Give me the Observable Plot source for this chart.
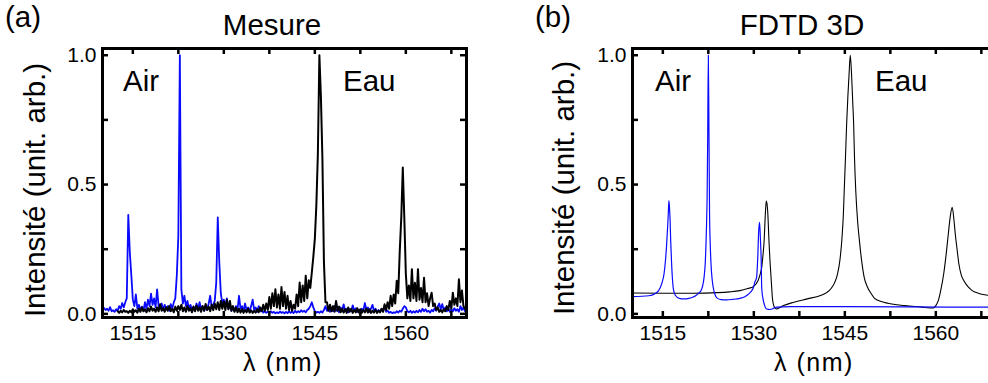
<!DOCTYPE html>
<html><head><meta charset="utf-8">
<script src="https://cdn.jsdelivr.net/npm/d3@7"></script>
<script src="https://cdn.jsdelivr.net/npm/@observablehq/plot@0.6"></script>
<style>
html,body{margin:0;padding:0;background:#fff;}
body{width:988px;height:383px;overflow:hidden;position:relative;font-family:"Liberation Sans",Arial,sans-serif;color:#000;}
.panel{position:absolute;top:0;height:383px;}
.t{position:absolute;white-space:nowrap;line-height:30px;font-size:29.5px;}
.c{transform:translateX(-50%);}
.r{transform:translate(-50%,-50%) rotate(-90deg);}
.xl{font-size:25px;line-height:25px;letter-spacing:1.5px;}
</style></head><body>
<div id="pa" class="panel" style="left:0;width:494px"></div>
<div id="pb" class="panel" style="left:494px;width:530px"></div>
<div class="t" style="left:5px;top:2px">(a)</div>
<div class="t c" style="left:272px;top:10px">Mesure</div>
<div class="t" style="left:123px;top:66px">Air</div>
<div class="t" style="left:343px;top:66px">Eau</div>
<div class="t c xl" style="left:283px;top:350px">λ (nm)</div>
<div class="t r" style="left:35px;top:190px">Intensité (unit. arb.)</div>
<div class="t" style="left:535px;top:2px">(b)</div>
<div class="t c" style="left:802px;top:10px">FDTD 3D</div>
<div class="t" style="left:655px;top:66px">Air</div>
<div class="t" style="left:875px;top:66px">Eau</div>
<div class="t c xl" style="left:814px;top:350px">λ (nm)</div>
<div class="t r" style="left:564px;top:188px">Intensité (unit. arb.)</div>
<script>
// ---- data ----
const wlStart = 1510;      // measured spectra wavelength grid (nm)
const wlStep = 0.25;
const airMeasured = [
  0.030,0.022,0.015,0.020,0.012,0.026,0.010,0.014, // 1510
  0.008,0.018,0.012,0.030,0.020,0.042,0.025,0.045, // 1512
  0.060,0.383,0.240,0.150,0.055,0.030,0.075,0.020, // 1514
  0.035,0.015,0.028,0.012,0.045,0.020,0.055,0.030, // 1516
  0.078,0.035,0.060,0.025,0.095,0.030,0.020,0.040, // 1518
  0.015,0.035,0.018,0.030,0.012,0.038,0.020,0.045, // 1520
  0.060,0.150,0.300,1.000,0.095,0.040,0.070,0.030, // 1522
  0.050,0.020,0.035,0.015,0.028,0.012,0.040,0.018, // 1524
  0.045,0.020,0.030,0.012,0.025,0.015,0.040,0.070, // 1526
  0.025,0.035,0.050,0.120,0.373,0.200,0.080,0.040, // 1528
  0.055,0.025,0.060,0.020,0.030,0.012,0.025,0.010, // 1530
  0.030,0.015,0.070,0.020,0.030,0.010,0.040,0.015, // 1532
  0.025,0.010,0.030,0.055,0.015,0.025,0.008,0.030, // 1534
  0.010,0.020,0.005,0.010,0.004,0.008,0.003,0.010, // 1536
  0.004,0.008,0.002,0.006,0.003,0.009,0.004,0.007, // 1538
  0.002,0.008,0.003,0.010,0.004,0.008,0.003,0.012, // 1540
  0.005,0.010,0.006,0.014,0.008,0.012,0.006,0.015, // 1542
  0.020,0.030,0.045,0.025,0.010,0.005,0.008,0.004, // 1544
  0.010,0.005,0.015,0.030,0.012,0.025,0.008,0.020, // 1546
  0.010,0.030,0.012,0.018,0.006,0.025,0.010,0.037, // 1548
  0.012,0.020,0.006,0.018,0.010,0.033,0.012,0.022, // 1550
  0.008,0.015,0.006,0.020,0.012,0.042,0.015,0.025, // 1552
  0.008,0.020,0.035,0.012,0.020,0.006,0.015,0.008, // 1554
  0.018,0.010,0.030,0.008,0.012,0.004,0.008,0.003, // 1556
  0.006,0.004,0.010,0.005,0.012,0.008,0.020,0.030, // 1558
  0.025,0.010,0.006,0.012,0.004,0.010,0.005,0.012, // 1560
  0.006,0.015,0.008,0.020,0.010,0.018,0.008,0.012, // 1562
  0.005,0.015,0.010,0.022,0.012,0.028,0.040,0.018, // 1564
  0.038,0.015,0.025,0.010,0.020,0.008,0.018,0.010, // 1566
  0.022,0.012,0.018,0.008,0.030,0.015,0.025,0.010, // 1568
  0.020                                            // 1570
];
const eauMeasured = [
  null,null,null,null,null,null,null,null,         // 1510
  null,null,0.010,0.004,0.012,0.006,0.015,0.008,   // 1512
  0.010,0.004,0.012,0.006,0.018,0.008,0.014,0.005, // 1514
  0.020,0.008,0.025,0.010,0.018,0.006,0.022,0.010, // 1516
  0.028,0.012,0.020,0.008,0.025,0.010,0.037,0.012, // 1518
  0.022,0.008,0.026,0.012,0.030,0.010,0.020,0.006, // 1520
  0.028,0.012,0.030,0.015,0.035,0.010,0.025,0.008, // 1522
  0.030,0.012,0.022,0.006,0.028,0.010,0.032,0.012, // 1524
  0.025,0.008,0.030,0.012,0.038,0.015,0.028,0.010, // 1526
  0.035,0.014,0.040,0.018,0.045,0.015,0.050,0.020, // 1528
  0.048,0.015,0.055,0.018,0.050,0.012,0.030,0.008, // 1530
  0.025,0.006,0.020,0.005,0.018,0.004,0.015,0.006, // 1532
  0.020,0.005,0.014,0.004,0.012,0.005,0.018,0.006, // 1534
  0.025,0.010,0.035,0.012,0.040,0.015,0.065,0.020, // 1536
  0.080,0.030,0.095,0.025,0.075,0.020,0.104,0.030, // 1538
  0.085,0.020,0.070,0.015,0.050,0.012,0.035,0.020, // 1540
  0.075,0.030,0.121,0.045,0.110,0.050,0.147,0.060, // 1542
  0.130,0.100,0.160,0.220,0.290,0.420,0.620,1.000, // 1544
  0.840,0.600,0.200,0.045,0.045,0.012,0.035,0.010, // 1546
  0.030,0.008,0.050,0.012,0.028,0.006,0.020,0.005, // 1548
  0.018,0.004,0.025,0.008,0.020,0.004,0.015,0.006, // 1550
  0.022,0.005,0.018,0.004,0.015,0.006,0.020,0.005, // 1552
  0.018,0.004,0.012,0.005,0.016,0.004,0.012,0.006, // 1554
  0.020,0.008,0.037,0.015,0.045,0.020,0.070,0.030, // 1556
  0.075,0.040,0.128,0.080,0.244,0.373,0.566,0.370, // 1558
  0.155,0.060,0.110,0.050,0.173,0.060,0.120,0.050, // 1560
  0.173,0.055,0.100,0.045,0.140,0.045,0.080,0.030, // 1562
  0.060,0.082,0.030,0.040,0.015,0.025,0.008,0.015, // 1564
  0.006,0.018,0.010,0.030,0.015,0.050,0.020,0.082, // 1566
  0.035,0.060,0.030,0.134,0.045,0.090,0.030,0.020, // 1568
  0.015                                            // 1570
];
const fdtdEauWl = [1510,1515,1520,1524,1526,1527.7,1529,1529.9,1530.7,1531.0,1531.3,1531.5,1531.7,1531.9,1532.05,1532.2,1532.3,1532.5,1532.65,1532.8,1532.95,1533.05,1533.2,1533.4,1533.8,1534.3,1534.9,1536.6,1538.8,1541,1542,1542.7,1543.3,1543.8,1544.2,1544.5,1544.75,1544.9,1545.1,1545.3,1545.5,1545.7,1545.9,1546.1,1546.3,1546.45,1546.6,1546.8,1547.1,1547.4,1547.8,1548.2,1548.7,1549.3,1549.9,1551,1552.1,1554.9,1557.7,1559.0,1559.6,1560.0,1560.4,1560.8,1561.3,1561.7,1562.0,1562.4,1562.7,1563.0,1563.2,1563.5,1563.8,1564.2,1564.6,1565.3,1566.0,1567.0,1568.8,1570];
const fdtdEauI  = [0.081,0.080,0.080,0.082,0.085,0.090,0.098,0.105,0.129,0.150,0.180,0.225,0.284,0.387,0.436,0.420,0.390,0.280,0.210,0.155,0.100,0.064,0.040,0.026,0.019,0.025,0.032,0.045,0.058,0.071,0.082,0.097,0.120,0.155,0.210,0.284,0.380,0.477,0.600,0.735,0.840,0.928,1.000,0.930,0.820,0.735,0.600,0.477,0.360,0.284,0.200,0.140,0.105,0.080,0.060,0.048,0.041,0.032,0.026,0.023,0.023,0.032,0.051,0.090,0.155,0.230,0.296,0.380,0.412,0.360,0.310,0.250,0.193,0.150,0.129,0.105,0.090,0.080,0.071,0.066];
const fdtdAirWl = [1510,1512.7,1513.7,1514.3,1514.8,1515.2,1515.45,1515.6,1515.8,1515.9,1516.0,1516.1,1516.2,1516.3,1516.45,1516.6,1516.7,1516.9,1517.1,1517.7,1518.5,1519.3,1520.0,1520.4,1521.0,1521.3,1521.6,1521.8,1522.0,1522.1,1522.2,1522.3,1522.4,1522.5,1522.6,1522.7,1522.8,1522.95,1523.1,1523.3,1523.6,1523.9,1524.6,1525.5,1526.5,1527.7,1528.5,1529.05,1529.5,1529.9,1530.2,1530.45,1530.65,1530.8,1530.95,1531.1,1531.2,1531.3,1531.5,1531.7,1532.1,1532.7,1533.3,1533.8,1536,1545,1555,1570];
const fdtdAirI  = [0.067,0.070,0.078,0.090,0.115,0.155,0.210,0.258,0.340,0.387,0.438,0.410,0.360,0.280,0.193,0.130,0.103,0.080,0.071,0.060,0.058,0.060,0.065,0.070,0.082,0.090,0.112,0.142,0.200,0.258,0.340,0.450,0.700,1.000,0.720,0.390,0.280,0.190,0.140,0.103,0.075,0.062,0.055,0.054,0.056,0.060,0.066,0.075,0.085,0.100,0.125,0.140,0.220,0.320,0.354,0.280,0.220,0.100,0.060,0.039,0.019,0.017,0.022,0.026,0.028,0.028,0.027,0.026];
const xTickLabels = [1515, 1530, 1545, 1560];
const xTickMarks = [1515, 1522.5, 1530, 1537.5, 1545, 1552.5, 1560, 1567.5];
const yTickLabels = [0, 0.5, 1];
const yTickMarks = [0, 0.25, 0.5, 0.75, 1];
const xDomain = [1510, 1570];
const yDomain = [-0.014, 1.026];

// ---- tables ----
const gridRows = arr => arr.map((v, i) => ({x: wlStart + i * wlStep, y: v}));
const pairRows = (wl, v) => wl.map((w, i) => ({x: w, y: v[i]}));
const airM = gridRows(airMeasured), eauM = gridRows(eauMeasured);
const airF = pairRows(fdtdAirWl, fdtdAirI), eauF = pairRows(fdtdEauWl, fdtdEauI);

const BLUE = "#0a0aff";
const mT = 48, mB = 66, mR = 28, H = 383;

function panel(width, marginLeft, lineMarks) {
  const innerH = H - mT - mB, innerW = width - marginLeft - mR;
  return Plot.plot({
    width, height: H, marginLeft, marginRight: mR, marginTop: mT, marginBottom: mB,
    x: {domain: xDomain}, y: {domain: yDomain},
    style: {fontFamily: '"Liberation Sans", Arial, sans-serif', fontSize: "21px", color: "#000", background: "transparent", overflow: "visible"},
    marks: [
      ...lineMarks,
      Plot.frame({stroke: "#000", strokeWidth: 3}),
      Plot.tickX(xTickMarks, {x: d => d, insetTop: innerH - 6, strokeWidth: 2.5, stroke: "#000"}),
      Plot.tickX(xTickMarks, {x: d => d, insetBottom: innerH - 6, strokeWidth: 2.5, stroke: "#000"}),
      Plot.tickY(yTickMarks, {y: d => d, insetRight: innerW - 6, strokeWidth: 2.5, stroke: "#000"}),
      Plot.tickY(yTickMarks, {y: d => d, insetLeft: innerW - 6, strokeWidth: 2.5, stroke: "#000"}),
      Plot.axisX(xTickLabels, {tickSize: 0, tickPadding: 8, tickFormat: d3.format("d"), label: null}),
      Plot.axisY(yTickLabels, {tickSize: 0, tickPadding: 6, tickFormat: d3.format(".1f"), label: null})
    ]
  });
}

document.getElementById("pa").append(panel(494, 102, [
  Plot.line(airM, {x: "x", y: "y", stroke: BLUE, strokeWidth: 1.8, strokeLinejoin: "round"}),
  Plot.line(eauM, {x: "x", y: "y", stroke: "#000", strokeWidth: 2, strokeLinejoin: "round"})
]));
document.getElementById("pb").append(panel(530, 138, [
  Plot.line(eauF, {x: "x", y: "y", stroke: "#000", strokeWidth: 1.1, curve: "monotone-x"}),
  Plot.line(airF, {x: "x", y: "y", stroke: BLUE, strokeWidth: 1.2, curve: "monotone-x"})
]));
</script>
</body></html>
